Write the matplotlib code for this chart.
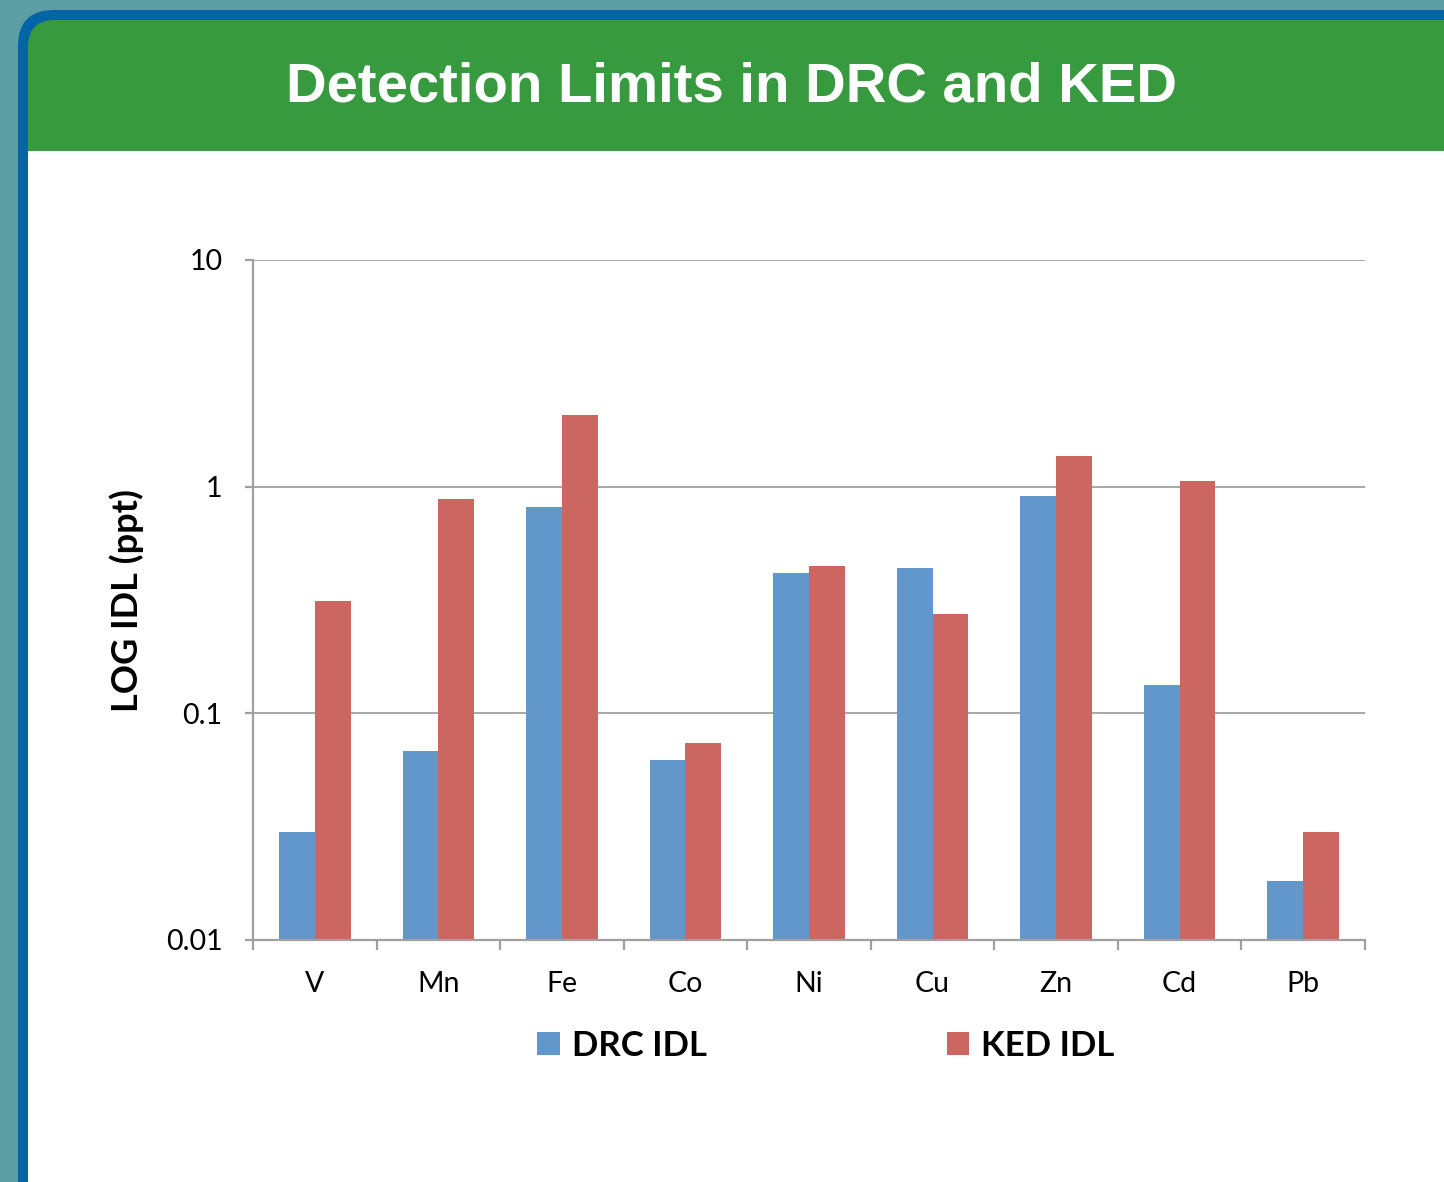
import matplotlib
matplotlib.use("Agg")
import matplotlib.pyplot as plt
from matplotlib.patches import FancyBboxPatch, Rectangle, Patch
import numpy as np

# ---- data ----
elements = ["V", "Mn", "Fe", "Co", "Ni", "Cu", "Zn", "Cd", "Pb"]
drc_idl = [0.029, 0.067, 0.81, 0.061, 0.416, 0.437, 0.91, 0.133, 0.0173]
ked_idl = [0.313, 0.88, 2.07, 0.0733, 0.447, 0.274, 1.36, 1.06, 0.029]
ytick_vals = [0.01, 0.1, 1, 10]
ytick_labels = ["0.01", "0.1", "1", "10"]
series_names = ["DRC IDL", "KED IDL"]

W, H = 1444, 1182
fig = plt.figure(figsize=(W / 100, H / 100), dpi=100)
fig.patch.set_facecolor("#5b9ea4")

# background / panel layer in pixel coordinates
bg = fig.add_axes([0, 0, 1, 1])
bg.set_xlim(0, W)
bg.set_ylim(H, 0)
bg.axis("off")
bg.add_patch(Rectangle((0, 0), W, H, facecolor="#5b9ea4", edgecolor="none"))
bg.add_patch(FancyBboxPatch((18, 10), 1500, 1300,
                            boxstyle="round,pad=0,rounding_size=36",
                            facecolor="#0563a8", edgecolor="none"))
bg.add_patch(FancyBboxPatch((28, 20), 1500, 1300,
                            boxstyle="round,pad=0,rounding_size=27",
                            facecolor="#379a3f", edgecolor="none"))
bg.add_patch(Rectangle((28, 151), 1500, 1300, facecolor="white", edgecolor="none"))
bg.text(732, 87, "Detection Limits in DRC and KED", color="white",
        fontsize=40.5, fontweight="bold", family="Liberation Sans",
        ha="center", va="center")

# chart axes
ax = fig.add_axes([253 / W, 1 - 940 / H, (1365 - 253) / W, (940 - 260) / H])
ax.set_facecolor("none")
x = np.arange(len(elements))
bw = 0.29
blue = "#6197cb"
red = "#cc6660"
ax.bar(x - bw / 2, drc_idl, width=bw, color=blue, zorder=3, bottom=0.001)
ax.bar(x + bw / 2, ked_idl, width=bw, color=red, zorder=3, bottom=0.001)
ax.set_yscale("log")
ax.set_ylim(0.01, 10)
ax.set_xlim(-0.5, len(elements) - 0.5)

gray = "#a0a0a0"
ax.set_yticks(ytick_vals)
ax.set_yticklabels(ytick_labels)
ax.yaxis.set_minor_locator(matplotlib.ticker.NullLocator())
ax.grid(axis="y", which="major", color=gray, linewidth=1.3, zorder=0)
for s in ["top", "right"]:
    ax.spines[s].set_visible(False)
for s in ["left", "bottom"]:
    ax.spines[s].set_color(gray)
    ax.spines[s].set_linewidth(1.6)
    ax.spines[s].set_zorder(4)

ax.set_xticks(np.arange(-0.5, len(elements), 1.0))
ax.set_xticklabels([])
ax.set_xticks(x, minor=True)
ax.set_xticklabels(elements, minor=True)
ax.tick_params(axis="x", which="major", length=7, width=1.6, color=gray, direction="out")
ax.tick_params(axis="x", which="minor", length=0, pad=22, labelsize=20.5)
ax.tick_params(axis="y", which="major", length=6, width=1.6, color=gray, labelsize=20.5, pad=16)
for lab in ax.get_xticklabels(minor=True) + ax.get_yticklabels():
    lab.set_family("Lato")

fig.text(127 / W, 1 - 600 / H, "LOG IDL (ppt)", rotation=90, ha="center", va="center",
         fontsize=26, fontweight="bold", family="Lato")

handles = [Patch(facecolor=blue), Patch(facecolor=red)]
leg = fig.legend(handles, series_names, loc="center",
                 bbox_to_anchor=(826 / W, 1 - 1046 / H), ncol=2, frameon=False,
                 handlelength=0.65, handleheight=0.65, handletextpad=0.35,
                 columnspacing=6.9,
                 prop={"family": "Lato", "weight": "bold", "size": 25})

fig.savefig("out.png", dpi=100, facecolor=fig.get_facecolor())
